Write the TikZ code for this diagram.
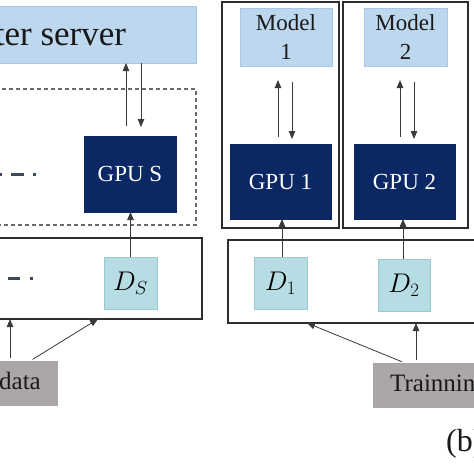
\documentclass[tikz,border=0pt]{standalone}
\RequirePackage{fix-cm}
\usepackage{fontspec}
\setmainfont{Liberation Serif}
\usetikzlibrary{arrows.meta}
\definecolor{srvblue}{HTML}{BDD7EE}
\definecolor{srvedge}{HTML}{A9C7E4}
\definecolor{navy}{HTML}{0B2865}
\definecolor{tealc}{HTML}{B7DDE4}
\definecolor{tealedge}{HTML}{9CC9D1}
\definecolor{grayc}{HTML}{ABA7A7}
\definecolor{framec}{HTML}{2E2E2E}
\definecolor{arrc}{HTML}{3A3A3A}
\definecolor{dotc}{HTML}{3C4A5C}
\definecolor{dashc}{HTML}{6A6A6A}
\tikzset{
  srv/.style={fill=srvblue, draw=srvedge, line width=0.6pt, inner sep=0pt, outer sep=0pt, text=black!90, font=\fontsize{35}{40}\selectfont},
  modelbox/.style={fill=srvblue, draw=srvedge, line width=0.6pt, inner sep=0pt, outer sep=0pt, align=center, text=black!90, font=\fontsize{23}{29}\selectfont},
  gpubox/.style={fill=navy, draw=navy, text=white, inner sep=0pt, outer sep=0pt, font=\fontsize{23}{28}\selectfont},
  dbox/.style={fill=tealc, draw=tealedge, line width=0.6pt, inner sep=0pt, outer sep=0pt, font=\fontsize{27}{30}\selectfont},
  outerbox/.style={draw=framec, line width=1.2pt, inner sep=0pt, outer sep=0pt},
  dashbox/.style={draw=dashc, dash pattern=on 4pt off 3pt, line width=1.2pt, inner sep=0pt, outer sep=0pt},
  tdata/.style={fill=grayc, inner sep=0pt, outer sep=0pt, text=black!90, font=\fontsize{25}{30}\selectfont},
  arr/.style={draw=arrc, line width=0.8pt, -{Triangle[length=8pt,width=6.5pt]}},
  ellip/.style={draw=dotc, line width=3pt},
}
\begin{document}
\begin{tikzpicture}[x=1pt,y=-1pt]
\useasboundingbox (0,0) rectangle (474,474);
\clip (0,0) rectangle (474,474);
\fill[white] (0,0) rectangle (474,474);

% left part
\node[srv, minimum width=376pt, minimum height=57pt] (server) at (8,34.5) {Parameter server};
\node[dashbox, minimum width=206pt, minimum height=136pt] (group) at (93,157) {};
\node[gpubox, minimum width=92pt, minimum height=76pt] (gpuS) at (130,174) {GPU S};
\node[outerbox, minimum width=212pt, minimum height=81pt] (boxL) at (96,278.5) {};
\node[dbox, minimum width=53pt, minimum height=52pt] (dS) at (130.5,283) {$D_S$};
\node[tdata, minimum width=180pt, minimum height=45pt] (dataL) at (-32,383.5) {Trainning data};

% right part
\node[outerbox, minimum width=117pt, minimum height=226pt] (cont1) at (280.5,115) {};
\node[outerbox, minimum width=125pt, minimum height=226pt] (cont2) at (405.5,115) {};
\node[modelbox, minimum width=92pt, minimum height=58pt] (model1) at (286,37) {Model\\1};
\node[modelbox, minimum width=83pt, minimum height=58pt] (model2) at (405.5,37) {Model\\2};
\node[gpubox, minimum width=101pt, minimum height=75pt] (gpu1) at (280.5,181.5) {GPU 1};
\node[gpubox, minimum width=101pt, minimum height=75pt] (gpu2) at (404.5,181.5) {GPU 2};
\node[outerbox, minimum width=262pt, minimum height=83pt] (boxR) at (359,281.5) {};
\node[dbox, minimum width=53pt, minimum height=52pt] (d1) at (280.5,283) {$D_1$};
\node[dbox, minimum width=52pt, minimum height=52pt] (d2) at (404,285) {$D_2$};
\node[tdata, minimum width=180pt, minimum height=45pt] (dataR) at (463,385.5) {Trainning data};
\node[anchor=base west, inner sep=0pt, text=black!90, font=\fontsize{32}{36}\selectfont] (lab) at (446,451) {(b)};

% ellipsis marks
\draw[ellip] (0,174) -- (2,174);
\draw[ellip] (11,174) -- (24,174);
\draw[ellip] (33,174) -- (35.5,174);
\draw[ellip] (8,278) -- (20,278);
\draw[ellip] (30,278) -- (33,278);

% server <-> GPU S
\draw[arr, shorten <=10pt] ([xshift=-4pt]gpuS.north) -- ([xshift=-4pt]gpuS.north |- server.south);
\draw[arr, shorten >=9pt] ([xshift=11pt]gpuS.north |- server.south) -- ([xshift=11pt]gpuS.north);
% models <-> GPUs
\draw[arr, shorten <=7pt, shorten >=14pt] ([xshift=-2.5pt]gpu1.north) -- ([xshift=-2.5pt]gpu1.north |- model1.south);
\draw[arr, shorten <=16pt, shorten >=5pt] ([xshift=11.5pt]gpu1.north |- model1.south) -- ([xshift=11.5pt]gpu1.north);
\draw[arr, shorten <=7pt, shorten >=14pt] ([xshift=-4.5pt]gpu2.north) -- ([xshift=-4.5pt]gpu2.north |- model2.south);
\draw[arr, shorten <=16pt, shorten >=5pt] ([xshift=9.5pt]gpu2.north |- model2.south) -- ([xshift=9.5pt]gpu2.north);
% data shards -> GPUs
\draw[arr] (dS.north) -- (dS.north |- gpuS.south);
\draw[arr] ([xshift=1.5pt]d1.north) -- ([xshift=1.5pt]d1.north |- gpu1.south);
\draw[arr] ([xshift=-1pt]d2.north) -- ([xshift=-1pt]d2.north |- gpu2.south);
% training data -> shards
\draw[arr, shorten <=3pt] ([xshift=42pt]dataL.north) -- ([xshift=42pt]dataL.north |- boxL.south);
\draw[arr, shorten <=3pt] ([xshift=62pt]dataL.north) -- ([xshift=2pt]boxL.south);
\draw[arr, shorten <=3pt] ([xshift=-58pt]dataR.north) -- ([xshift=-52pt]boxR.south);
\draw[arr, shorten <=3pt] ([xshift=-47pt]dataR.north) -- ([xshift=-47pt]dataR.north |- boxR.south);
\end{tikzpicture}
\end{document}
